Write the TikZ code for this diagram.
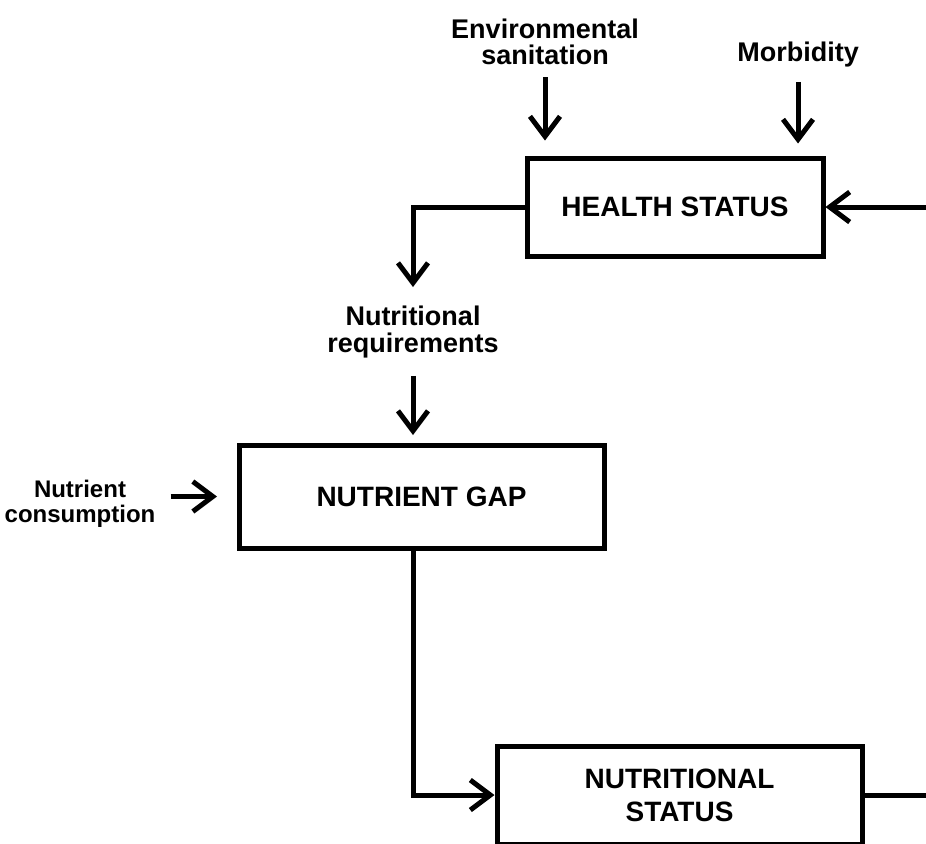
\documentclass[tikz,border=0pt]{standalone}
\usepackage{fontspec}
\setmainfont{Liberation Sans}
\usetikzlibrary{arrows.meta,positioning}
\tikzset{
  statebox/.style={draw,line width=2.5pt,align=center,inner sep=0pt,font=\fontsize{14}{16.5}\selectfont\bfseries},
  factor/.style={align=center,inner sep=0pt,font=\fontsize{13.5}{13}\selectfont\bfseries},
  flowarrow/.style={-{Straight Barb[length=10pt,width=15pt]},line width=2.5pt},
  flowline/.style={line width=2.5pt}
}

\begin{document}
\begin{tikzpicture}[x=0.5pt,y=-0.5pt]
\clip (0,0) rectangle (926,843);
\node[statebox,minimum width=148pt,minimum height=49pt] (health) at (675,207) {HEALTH STATUS};
\node[statebox,minimum width=182.5pt,minimum height=51.5pt] (nutgap) at (421.5,496.5) {NUTRIENT GAP};
\node[statebox,minimum width=182.5pt,minimum height=49pt] (nutstat) at (679.5,795) {NUTRITIONAL\\STATUS};
\node[factor] (envsan) at (545,42) {Environmental\\sanitation};
\node[factor] (morbid) at (798,55) {Morbidity};
\node[factor,font=\fontsize{13.5}{13.5}\selectfont\bfseries] (nutreq) at (413,332.5) {Nutritional\\requirements};
\node[factor,font=\fontsize{12}{12.5}\selectfont\bfseries] (nutcons) at (80,504) {Nutrient\\consumption};
\coordinate (feedin) at (935,207);
\coordinate (feedout) at (935,795);
\draw[flowarrow] ([yshift=-6pt]envsan.south) -- ([yshift=7.5pt]envsan.south |- health.north);
\draw[flowarrow] ([yshift=-7pt]morbid.south) -- ([yshift=6pt]morbid.south |- health.north);
\draw[flowarrow] (feedin) -- (health.east);
\draw[flowarrow] (health.west) -| ([yshift=9.5pt]nutreq.north);
\draw[flowarrow] ([yshift=-8.5pt]nutreq.south) -- ([yshift=3.75pt]nutreq.south |- nutgap.north);
\draw[flowarrow] ([xshift=7.5pt]nutcons.east |- nutgap.west) -- ([xshift=-9.75pt]nutgap.west);
\draw[flowarrow] (nutreq.south |- nutgap.south) |- (nutstat.west);
\draw[flowline] (nutstat.east) -- (feedout);
\end{tikzpicture}
\end{document}
